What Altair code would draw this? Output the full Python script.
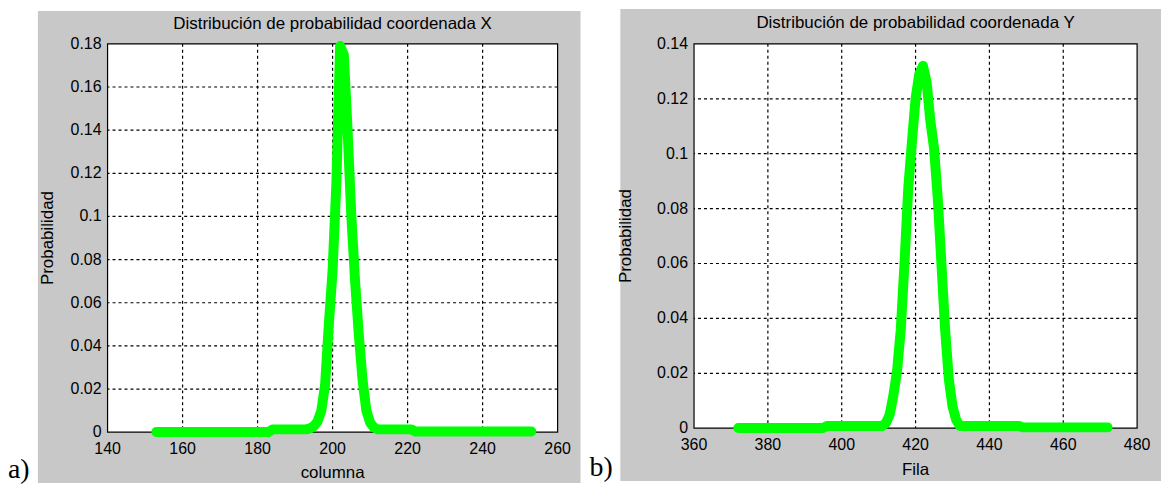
import altair as alt
import pandas as pd

# ---------------- data ----------------
col_x = list(range(153, 254))
col_p = [
    0.0001, 0.0001, 0.0001, 0.0001, 0.0001, 0.0001, 0.0001, 0.0001, 0.0001, 0.0001,
    0.0001, 0.0001, 0.0001, 0.0001, 0.0001, 0.0001, 0.0001, 0.0001, 0.0001, 0.0001,
    0.0001, 0.0001, 0.0001, 0.0001, 0.0001, 0.0001, 0.0001, 0.0001, 0.0001, 0.0001,
    0.0001,                                                    # 153-183
    0.0013, 0.0013, 0.0013, 0.0013, 0.0013, 0.0013, 0.0013, 0.0013, 0.0013, 0.0013,  # 184-193
    0.0018, 0.0028, 0.005, 0.01, 0.022, 0.05, 0.075, 0.115, 0.179, 0.175,            # 194-203
    0.14, 0.1, 0.07, 0.045, 0.024, 0.01, 0.0045, 0.0022,                             # 204-211
    0.0013, 0.0013, 0.0013, 0.0013, 0.0013, 0.0013, 0.0013, 0.0013, 0.0013, 0.0013,  # 212-221
    0.0003, 0.0003, 0.0003, 0.0003, 0.0003, 0.0003, 0.0003, 0.0003, 0.0003, 0.0003,
    0.0003, 0.0003, 0.0003, 0.0003, 0.0003, 0.0003, 0.0003, 0.0003, 0.0003, 0.0003,
    0.0003, 0.0003, 0.0003, 0.0003, 0.0003, 0.0003, 0.0003, 0.0003, 0.0003, 0.0003,
    0.0003, 0.0003,                                            # 222-253
]

fila_x = list(range(372, 473))
fila_p = [
    0.0001, 0.0001, 0.0001, 0.0001, 0.0001, 0.0001, 0.0001, 0.0001, 0.0001, 0.0001,
    0.0001, 0.0001, 0.0001, 0.0001, 0.0001, 0.0001, 0.0001, 0.0001, 0.0001, 0.0001,
    0.0001, 0.0001, 0.0001, 0.0001,                            # 372-395
    0.0008, 0.0008, 0.0008, 0.0008, 0.0008, 0.0008, 0.0008, 0.0008, 0.0008, 0.0008,
    0.0008, 0.0008, 0.0008, 0.0008, 0.0008, 0.0008,            # 396-411
    0.002, 0.005, 0.012, 0.021, 0.036, 0.06, 0.087, 0.104, 0.12, 0.129,              # 412-421
    0.132, 0.126, 0.112, 0.102, 0.084, 0.06, 0.036, 0.018, 0.008, 0.003,             # 422-431
    0.0008, 0.0008, 0.0008, 0.0008, 0.0008, 0.0008, 0.0008, 0.0008, 0.0008, 0.0008,
    0.0008, 0.0008, 0.0008, 0.0008, 0.0008, 0.0008, 0.0008,    # 432-448
    0.0003, 0.0003, 0.0003, 0.0003, 0.0003, 0.0003, 0.0003, 0.0003, 0.0003, 0.0003,
    0.0003, 0.0003, 0.0003, 0.0003, 0.0003, 0.0003, 0.0003, 0.0003, 0.0003, 0.0003,
    0.0003, 0.0003, 0.0003, 0.0003,                            # 449-472
]

x_ticks_a = [140, 160, 180, 200, 220, 240, 260]
y_ticks_a = [0, 0.02, 0.04, 0.06, 0.08, 0.1, 0.12, 0.14, 0.16, 0.18]
x_ticks_b = [360, 380, 400, 420, 440, 460, 480]
y_ticks_b = [0, 0.02, 0.04, 0.06, 0.08, 0.1, 0.12, 0.14]

title_a = "Distribución de probabilidad coordenada X"
title_b = "Distribución de probabilidad coordenada Y"
xlabel_a = "columna"
xlabel_b = "Fila"
ylabel = "Probabilidad"

SANS = "Liberation Sans"
SERIF = "Liberation Serif"
GRAY = "#c8c8c8"
GREEN = "#00ff00"


def panel(xs, ps, xticks, yticks, W, H, geo, title, xtitle, letter):
    xscale = alt.Scale(domain=[xticks[0], xticks[-1]], nice=False, zero=False)
    yscale = alt.Scale(domain=[yticks[0], yticks[-1]], nice=False, zero=False)
    one = pd.DataFrame({"d": [0]})
    xt = pd.DataFrame({"v": xticks, "lab": [f"{v:g}" for v in xticks]})
    yt = pd.DataFrame({"v": yticks, "lab": [f"{v:g}" for v in yticks]})

    bg = alt.Chart(one).mark_rect(fill=GRAY, strokeWidth=0).encode(
        x=alt.value(geo["gx1"]), x2=alt.value(geo["gx2"]),
        y=alt.value(geo["gy1"]), y2=alt.value(geo["gy2"]),
    )
    frame = alt.Chart(one).mark_rect(fill="white", stroke="black", strokeWidth=1.2).encode(
        x=alt.value(0), x2=alt.value(W), y=alt.value(0), y2=alt.value(H),
    )
    vgrid = alt.Chart(xt.iloc[1:-1]).mark_rule(
        color="black", strokeWidth=1.2, strokeDash=[3, 3]
    ).encode(x=alt.X("v:Q", scale=xscale, axis=None))
    hgrid = alt.Chart(yt.iloc[1:-1]).mark_rule(
        color="black", strokeWidth=1.2, strokeDash=[3, 3]
    ).encode(y=alt.Y("v:Q", scale=yscale, axis=None))

    line = alt.Chart(pd.DataFrame({"x": xs, "p": ps})).mark_line(
        color=GREEN, strokeWidth=10, strokeCap="round", strokeJoin="round"
    ).encode(
        x=alt.X("x:Q", scale=xscale, axis=None),
        y=alt.Y("p:Q", scale=yscale, axis=None),
        order=alt.Order("x:Q"),
    )

    xlabels = alt.Chart(xt).mark_text(
        font=SANS, fontSize=16, color="black", align="center", baseline="top"
    ).encode(x=alt.X("v:Q", scale=xscale, axis=None), y=alt.value(H + 9), text="lab:N")
    ylabels = alt.Chart(yt).mark_text(
        font=SANS, fontSize=16, color="black", align="right", baseline="middle"
    ).encode(y=alt.Y("v:Q", scale=yscale, axis=None), x=alt.value(-6), text="lab:N")

    t_title = alt.Chart(one).mark_text(
        text=title, font=SANS, fontSize=17, color="black", align="center", baseline="alphabetic"
    ).encode(x=alt.value(W / 2), y=alt.value(geo["ty"]))
    t_x = alt.Chart(one).mark_text(
        text=xtitle, font=SANS, fontSize=17, color="black", align="center", baseline="alphabetic"
    ).encode(x=alt.value(W / 2), y=alt.value(geo["xty"]))
    t_y = alt.Chart(one).mark_text(
        text=ylabel, font=SANS, fontSize=17, color="black", align="center",
        baseline="alphabetic", angle=270
    ).encode(x=alt.value(geo["ytx"]), y=alt.value(H / 2))
    t_letter = alt.Chart(one).mark_text(
        text=letter, font=SERIF, fontSize=28, color="black", align="left", baseline="alphabetic"
    ).encode(x=alt.value(geo["lx"]), y=alt.value(geo["ly"]))

    return alt.layer(
        bg, frame, vgrid, hgrid, line, xlabels, ylabels, t_title, t_x, t_y, t_letter
    ).properties(width=W, height=H)


geo_a = dict(gx1=-70, gx2=475, gy1=-33, gy2=441, ty=-15, xty=436, ytx=-55, lx=-100, ly=436)
geo_b = dict(gx1=-74, gx2=469, gy1=-35, gy2=439, ty=-16, xty=433, ytx=-63, lx=-105, ly=434)

pa = panel(col_x, col_p, x_ticks_a, y_ticks_a, 452, 390, geo_a, title_a, xlabel_a, "a)")
pb = panel(fila_x, fila_p, x_ticks_b, y_ticks_b, 445, 386, geo_b, title_b, xlabel_b, "b)")

chart = alt.hconcat(pa, pb, spacing=9).properties(
    padding=0, background="white"
).configure_view(stroke=None)

chart.save("out.html", embed_options={"renderer": "svg", "actions": False})
